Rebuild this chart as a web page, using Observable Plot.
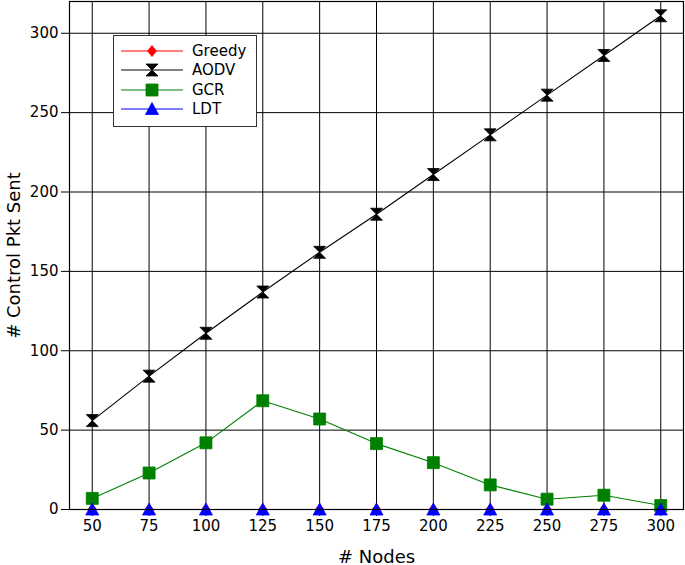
<!DOCTYPE html>
<html>
<head>
<meta charset="utf-8">
<script src="https://cdn.jsdelivr.net/npm/d3@7"></script>
<script src="https://cdn.jsdelivr.net/npm/@observablehq/plot@0.6"></script>
<style>
  html, body { margin: 0; padding: 0; background: #fff; }
  #wrap { position: relative; width: 685px; height: 565px; font-family: "DejaVu Sans", sans-serif; }
  #legend { position: absolute; left: 113px; top: 35px; width: 142px; height: 90px; border: 1.3px solid #333; background: #fff; box-sizing: content-box; }
  #legend .row { position: absolute; left: 0; height: 20px; display: flex; align-items: center; }
  #legend .row span { font-size: 15px; margin-left: 8px; color: #000; }
</style>
</head>
<body>
<div id="wrap"></div>
<script>
const nodes = [50, 75, 100, 125, 150, 175, 200, 225, 250, 275, 300];
const greedy = [0, 0, 0, 0, 0, 0, 0, 0, 0, 0, 0];
const aodv = [56, 84, 111, 137, 162, 186, 211, 236, 261, 286, 311];
const gcr = [7, 23, 42, 68.5, 57, 41.5, 29.5, 15.5, 6.5, 9, 2.5];
const ldt = [0, 0, 0, 0, 0, 0, 0, 0, 0, 0, 0];
const seriesNames = ["Greedy", "AODV", "GCR", "LDT"];
const seriesColors = ["#ff0000", "#000000", "#008000", "#0000ff"];
const xTicks = [50, 75, 100, 125, 150, 175, 200, 225, 250, 275, 300];
const yTicks = [0, 50, 100, 150, 200, 250, 300];
const xLabel = "# Nodes";
const yLabel = "# Control Pkt Sent";

// custom symbols: half-size = sqrt(size/PI)
const diamond = {draw(ctx, size) { const r = Math.sqrt(size / Math.PI); ctx.moveTo(0, -r); ctx.lineTo(r * 0.8, 0); ctx.lineTo(0, r); ctx.lineTo(-r * 0.8, 0); ctx.closePath(); }};
const hourglass = {draw(ctx, size) { const r = Math.sqrt(size / Math.PI); ctx.moveTo(-r, -r); ctx.lineTo(r, -r); ctx.lineTo(0, 0); ctx.closePath(); ctx.moveTo(-r, r); ctx.lineTo(r, r); ctx.lineTo(0, 0); ctx.closePath(); }};
const square = {draw(ctx, size) { const r = Math.sqrt(size / Math.PI); ctx.rect(-r, -r, 2 * r, 2 * r); }};
const triangle = {draw(ctx, size) { const r = Math.sqrt(size / Math.PI); ctx.moveTo(0, -r); ctx.lineTo(r, r * 0.85); ctx.lineTo(-r, r * 0.85); ctx.closePath(); }};
const symbols = [diamond, hourglass, square, triangle];
const radii = [5.5, 6, 6, 6.5];

const allSeries = [greedy, aodv, gcr, ldt];
const tables = allSeries.map(vals => nodes.map((n, i) => ({x: n, y: vals[i]})));

const marks = [
  Plot.gridX(xTicks, {stroke: "#000", strokeOpacity: 1, strokeWidth: 1}),
  Plot.gridY(yTicks, {stroke: "#000", strokeOpacity: 1, strokeWidth: 1}),
  Plot.axisX(xTicks, {tickSize: 7, tickPadding: 4, fontSize: 15, label: xLabel, labelAnchor: "center", labelArrow: "none", labelOffset: 53}),
  Plot.axisY(yTicks, {tickSize: 8, tickPadding: 3, fontSize: 15, label: yLabel, labelAnchor: "center", labelArrow: "none", labelOffset: 62}),
];
tables.forEach((t, k) => {
  marks.push(Plot.line(t, {x: "x", y: "y", stroke: seriesColors[k], strokeWidth: 1.1}));
  marks.push(Plot.dot(t, {x: "x", y: "y", symbol: () => symbols[k], r: radii[k], fill: seriesColors[k], stroke: seriesColors[k], strokeWidth: 0.8}));
});
marks.push(Plot.frame({stroke: "#000", strokeWidth: 1.2}));

const chart = Plot.plot({
  width: 685,
  height: 565,
  marginLeft: 69,
  marginRight: 2,
  marginTop: 1,
  marginBottom: 56,
  style: {fontFamily: "DejaVu Sans, sans-serif", fontSize: "15px", color: "#000", background: "#fff"},
  x: {domain: [40, 310]},
  y: {domain: [0, 320]},
  marks
});
chart.querySelectorAll("text").forEach(t => {
  if (t.textContent === xLabel || t.textContent === yLabel) {
    t.setAttribute("font-size", "18");
    t.style.fontSize = "18px";
  }
});
const wrap = document.getElementById("wrap");
wrap.appendChild(chart);

// Legend
const legend = document.createElement("div");
legend.id = "legend";
seriesNames.forEach((name, k) => {
  const row = document.createElement("div");
  row.className = "row";
  row.style.top = (5 + k * 19.3) + "px";
  const svg = d3.create("svg").attr("width", 70).attr("height", 20);
  svg.append("line").attr("x1", 7).attr("x2", 69).attr("y1", 10).attr("y2", 10).attr("stroke", seriesColors[k]).attr("stroke-width", 1.2);
  svg.append("path").attr("transform", "translate(38,10)")
    .attr("d", d3.symbol(symbols[k], Math.PI * radii[k] * radii[k])())
    .attr("fill", seriesColors[k]).attr("stroke", seriesColors[k]).attr("stroke-width", 0.8);
  row.appendChild(svg.node());
  const sp = document.createElement("span");
  sp.textContent = name;
  row.appendChild(sp);
  legend.appendChild(row);
});
wrap.appendChild(legend);
</script>
</body>
</html>
